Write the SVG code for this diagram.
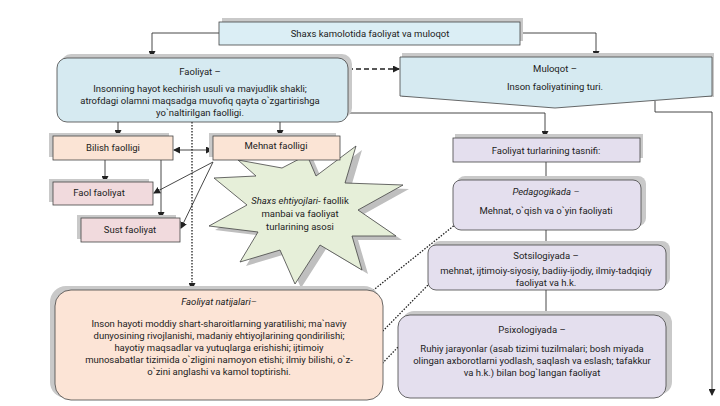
<svg xmlns="http://www.w3.org/2000/svg" width="720" height="406" viewBox="0 0 720 406">
<defs>
<style>
text{font-family:Roboto,"Liberation Sans",sans-serif;font-size:9.5px;fill:#222;text-anchor:middle}
.b{stroke:#444;stroke-width:0.8}
.sh{fill:#c9c9c9}
.ln{fill:none;stroke:#333;stroke-width:0.9}
.dot{fill:none;stroke:#222;stroke-width:1.3;stroke-dasharray:1.5 1.5}
.i{font-style:italic}
</style>
<marker id="a" markerWidth="7" markerHeight="7" refX="6" refY="3.5" orient="auto" markerUnits="userSpaceOnUse"><path d="M0,0 L7,3.5 L0,7z" fill="#222"/></marker>
<marker id="s" markerWidth="7" markerHeight="7" refX="1" refY="3.5" orient="auto" markerUnits="userSpaceOnUse"><path d="M7,0 L0,3.5 L7,7z" fill="#222"/></marker>
</defs>
<rect width="720" height="406" fill="#fff"/>
<g id="star"><path d="M214,178 L256,176 L238,160 L282,168 L307,155 L316,176 L356,146 L345,183 L403,185 L358,210 L396,236 L352,236 L362,270 L320,245 L295,284 L280,250 L240,262 L258,232 L209,226 L247,205Z" fill="#bfbfbf" transform="translate(6,4)"/>
<path d="M214,178 L256,176 L238,160 L282,168 L307,155 L316,176 L356,146 L345,183 L403,185 L358,210 L396,236 L352,236 L362,270 L320,245 L295,284 L280,250 L240,262 L258,232 L209,226 L247,205Z" fill="#e6efd9" class="b"/>
<text x="300" y="204"><tspan class="i">Shaxs ehtiyojlari</tspan>- faollik</text><text x="300" y="217">manbai va faoliyat</text><text x="300" y="230">turlarining asosi</text></g>
<g id="connectors">
<path class="ln" d="M219,33 H152 V57" marker-end="url(#a)"/>
<path class="ln" d="M520,33 H596 V57" marker-end="url(#a)"/>
<path d="M348,69 H399" fill="none" stroke="#222" stroke-width="1.5" stroke-dasharray="5 3" marker-end="url(#a)"/>
<path class="ln" d="M655,101 V112 H712 V395" marker-end="url(#a)"/>
<path class="ln" d="M348,113 H545 V137" marker-end="url(#a)"/>
<path class="ln" d="M546,162 V180 M546,230 V245 M546,290 V315"/>
<path class="ln" d="M118,122 V136" marker-end="url(#a)"/>
<path class="ln" d="M280,122 V136" marker-end="url(#a)"/>
<path class="ln" d="M174,150 H212" marker-start="url(#s)" marker-end="url(#a)"/>
<path class="ln" d="M105,160 V182" marker-end="url(#a)"/>
<path class="ln" d="M161,160 V218" marker-end="url(#a)"/>
<path class="ln" d="M213,162 L154,193" marker-end="url(#a)"/>
<path class="ln" d="M213,162 L181,228" marker-end="url(#a)"/>
<path class="dot" d="M192,122 V289" marker-end="url(#a)"/>
<path class="dot" d="M456,224 L366,296" marker-end="url(#a)"/>
<path class="dot" d="M430,283 L376,338" marker-end="url(#a)"/>
<path class="dot" d="M400,345 L376,370" marker-end="url(#a)"/>
</g>
<g id="top"><rect class="sh" x="222" y="18" width="301" height="23"/><rect class="b" x="219" y="22" width="301" height="23" fill="#dbeef5"/><text x="370" y="37">Shaxs kamolotida faoliyat va muloqot</text></g>
<g id="faoliyat"><rect class="sh" x="61" y="54" width="291" height="64" rx="10"/><rect class="b" x="57" y="58" width="291" height="64" rx="10" fill="#d6eaf1"/>
<text x="200" y="75">Faoliyat –</text><text x="200" y="92">Insonning hayot kechirish usuli va mavjudlik shakli;</text><text x="200" y="104">atrofdagi olamni maqsadga muvofiq qayta o`zgartirishga</text><text x="200" y="116">yo`naltirilgan faolligi.</text></g>
<g id="muloqot"><rect class="sh" x="402" y="53" width="312" height="44"/><path class="b" d="M400,57 H712 V96 L555,108 L400,96Z" fill="#d6eaf1"/>
<text x="555" y="72">Muloqot –</text><text x="555" y="90">Inson faoliyatining turi.</text></g>
<g id="tasnif"><rect class="sh" x="455" y="134" width="188" height="24"/><rect class="b" x="453" y="138" width="187" height="24" fill="#e4dfee"/><text x="546" y="154">Faoliyat turlarining tasnifi:</text></g>
<g id="pedagogika"><rect class="sh" x="457" y="176" width="189" height="50" rx="8"/><rect class="b" x="453" y="180" width="188" height="50" rx="8" fill="#e4dfee"/><text class="i" x="546" y="195">Pedagogikada –</text><text x="546" y="214">Mehnat, o`qish va o`yin faoliyati</text></g>
<g id="sotsiologiya"><rect class="sh" x="432" y="241" width="238" height="45" rx="8"/><rect class="b" x="428" y="245" width="238" height="45" rx="8" fill="#e4dfee"/><text x="546" y="259">Sotsilogiyada –</text><text x="546" y="274">mehnat, ijtimoiy-siyosiy, badiiy-ijodiy, ilmiy-tadqiqiy</text><text x="546" y="286">faoliyat  va h.k.</text></g>
<g id="psixologiya"><rect class="sh" x="402" y="311" width="270" height="83" rx="12"/><rect class="b" x="398" y="315" width="268" height="83" rx="12" fill="#e4dfee"/><text x="532" y="333">Psixologiyada –</text><text x="532" y="352">Ruhiy jarayonlar (asab tizimi tuzilmalari; bosh miyada</text><text x="532" y="364">olingan axborotlarni yodlash, saqlash va eslash; tafakkur</text><text x="532" y="376">va h.k.) bilan bog`langan faoliyat</text></g>
<g id="bilish"><rect class="sh" x="49" y="133" width="120" height="24"/><rect class="b" x="53" y="136" width="120" height="24" fill="#fbe4d5"/><text x="113" y="151">Bilish faolligi</text></g>
<g id="mehnat"><rect class="sh" x="209" y="133" width="127" height="24"/><rect class="b" x="213" y="136" width="127" height="24" fill="#fbe4d5"/><text x="276" y="149">Mehnat faolligi</text></g>
<g id="faol"><rect class="sh" x="49" y="179" width="100" height="23"/><rect class="b" x="53" y="182" width="100" height="23" fill="#f1dadd"/><text x="99" y="196">Faol faoliyat</text></g>
<g id="sust"><rect class="sh" x="77" y="215" width="99" height="24"/><rect class="b" x="81" y="218" width="99" height="24" fill="#f1dadd"/><text x="130" y="233">Sust faoliyat</text></g>
<g id="natijalar"><rect class="sh" x="50" y="286" width="330" height="112" rx="16"/><rect class="b" x="55" y="290" width="328" height="110" rx="16" fill="#fce4d6"/>
<text class="i" x="219" y="305">Faoliyat natijalari–</text>
<text x="219" y="327">Inson hayoti moddiy shart-sharoitlarning yaratilishi; ma`naviy</text>
<text x="219" y="339">dunyosining rivojlanishi, madaniy ehtiyojlarining qondirilishi;</text>
<text x="219" y="351">hayotiy maqsadlar va yutuqlarga erishishi; ijtimoiy</text>
<text x="219" y="363">munosabatlar tizimida o`zligini namoyon etishi; ilmiy bilishi, o`z-</text>
<text x="219" y="375">o`zini anglashi va kamol toptirishi.</text></g>
</svg>
